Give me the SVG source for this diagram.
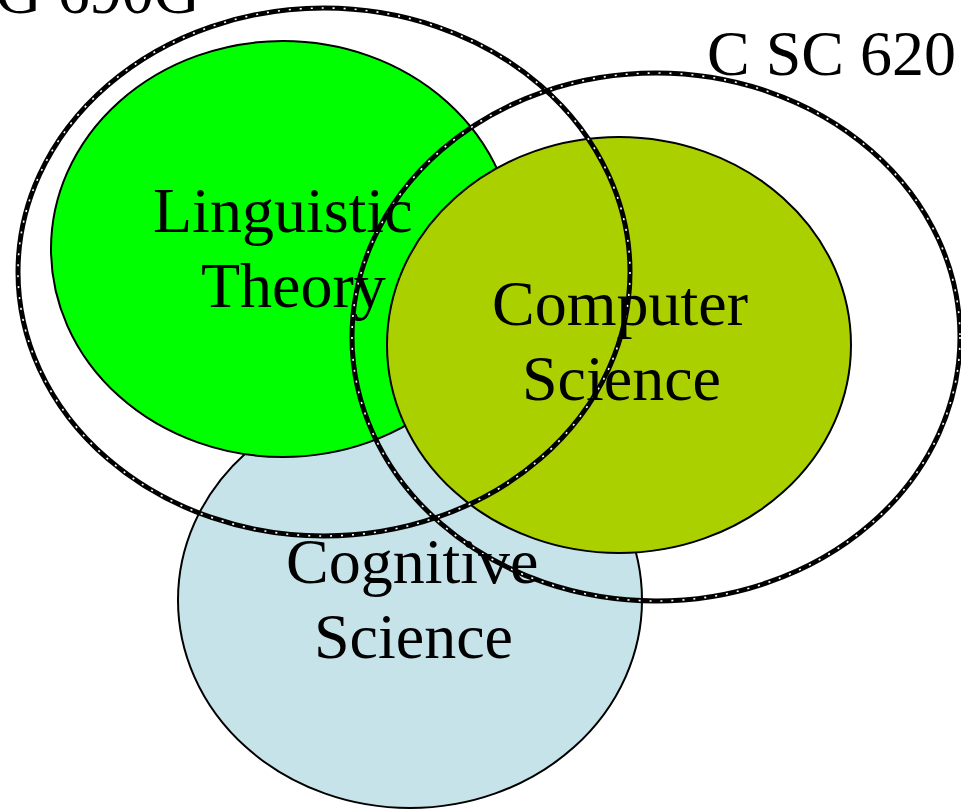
<svg xmlns="http://www.w3.org/2000/svg" width="961" height="809" viewBox="0 0 961 809">
  <style>
    .area { stroke: #000; stroke-width: 2; }
    .ring { fill: none; stroke: #000; stroke-width: 5; }
    .ringdots { fill: none; stroke: #fff; stroke-width: 1.6; stroke-dasharray: 2 9; }
    .lbl { font-family: "Liberation Serif", "Times New Roman", serif; font-size: 64px; fill: #000; }
  </style>
  <rect width="961" height="809" fill="#fff"/>
  <g id="cognitive-science">
    <ellipse class="area" cx="410" cy="600" rx="232" ry="208" fill="#c5e3e8"/>
  </g>
  <g id="linguistic-theory">
    <ellipse class="area" cx="283" cy="249" rx="232" ry="208" fill="#00ff00"/>
  </g>
  <g id="computer-science">
    <ellipse class="area" cx="619" cy="345" rx="232" ry="208" fill="#aad000"/>
  </g>
  <g id="ling-690g">
    <ellipse class="ring" cx="324" cy="272" rx="306" ry="264"/>
    <ellipse class="ringdots" cx="324" cy="272" rx="306" ry="264"/>
  </g>
  <g id="csc-620">
    <ellipse class="ring" cx="656" cy="337" rx="304" ry="264"/>
    <ellipse class="ringdots" cx="656" cy="337" rx="304" ry="264"/>
  </g>
  <g id="labels">
    <text class="lbl" x="153" y="232">Linguistic</text>
    <text class="lbl" x="201" y="307">Theory</text>
    <text class="lbl" x="492" y="325">Computer</text>
    <text class="lbl" x="522" y="400">Science</text>
    <text class="lbl" x="286" y="583">Cognitive</text>
    <text class="lbl" x="314" y="658">Science</text>
    <text class="lbl" x="200" y="13" text-anchor="end">G 690G</text>
    <text class="lbl" x="707" y="75">C SC 620</text>
  </g>
</svg>
